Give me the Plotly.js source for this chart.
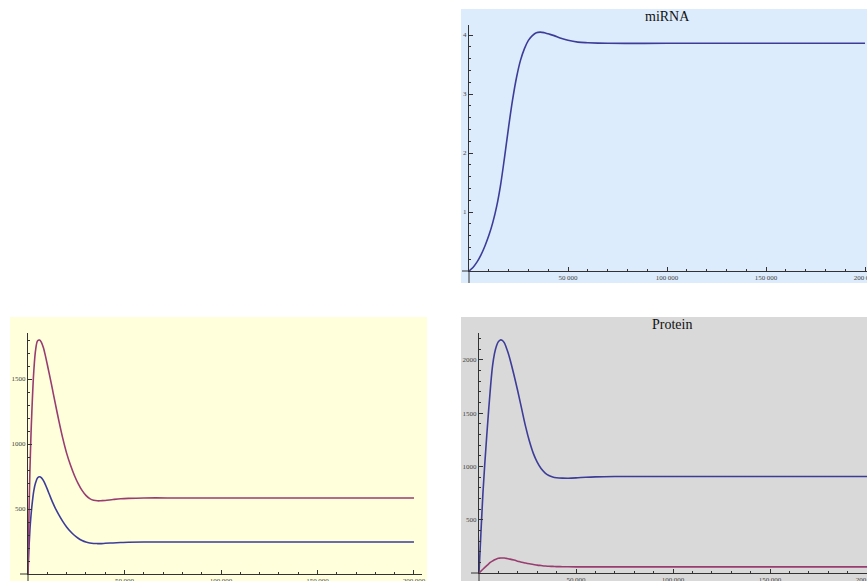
<!DOCTYPE html>
<html>
<head>
<meta charset="utf-8">
<script src="https://cdn.plot.ly/plotly-3.0.1.min.js"></script>
<style>html,body{margin:0;padding:0;background:#fff;}#chart{width:867px;height:581px;}</style>
</head>
<body>
<div id="chart"></div>
<script>
// ---- data ----
var mirnaT = [0, 2000, 4000, 6000, 8000, 10000, 12000, 14000, 16000, 18000, 20000, 22000, 24000, 26000, 28000, 30000, 32000, 34000, 36000, 38000, 40000, 43000, 46000, 50000, 55000, 60000, 70000, 100000, 150000, 200000];
var mirnaY = [0, 0.06, 0.15, 0.27, 0.42, 0.60, 0.82, 1.10, 1.47, 1.94, 2.44, 2.90, 3.28, 3.57, 3.77, 3.91, 3.99, 4.04, 4.05, 4.04, 4.02, 3.99, 3.95, 3.91, 3.88, 3.87, 3.86, 3.86, 3.86, 3.86];

var mrnaT = [0, 500, 1000, 1500, 2000, 3000, 4000, 5000, 6000, 7000, 8000, 9000, 10000, 11000, 12000, 13000, 14000, 16000, 18000, 20000, 22000, 24000, 26000, 28000, 30000, 32000, 34000, 36000, 38000, 40000, 44000, 48000, 52000, 60000, 80000, 120000, 160000, 200000];
var mrnaPurple = [0, 450, 800, 1050, 1250, 1560, 1730, 1795, 1800, 1780, 1740, 1680, 1612, 1542, 1470, 1396, 1322, 1178, 1045, 930, 838, 760, 695, 643, 605, 580, 567, 563, 564, 566, 573, 579, 582, 585, 585, 585, 585, 585];
var mrnaBlue = [0, 200, 340, 440, 520, 640, 705, 740, 748, 740, 718, 688, 653, 615, 578, 543, 511, 455, 405, 362, 327, 298, 275, 258, 246, 239, 235, 234, 234, 236, 239, 242, 244, 246, 246, 246, 246, 246];

var protT = [0, 1000, 2000, 3000, 4000, 5000, 6000, 7000, 8000, 9000, 10000, 11000, 12000, 13000, 14000, 15000, 16000, 18000, 20000, 22000, 24000, 26000, 28000, 30000, 32000, 34000, 36000, 38000, 40000, 43000, 46000, 50000, 55000, 60000, 70000, 100000, 150000, 200000];
var protBlue = [0, 380, 740, 1030, 1290, 1535, 1760, 1945, 2060, 2130, 2170, 2186, 2182, 2160, 2118, 2065, 2003, 1860, 1705, 1540, 1375, 1235, 1122, 1040, 980, 940, 915, 901, 894, 890, 889, 892, 898, 902, 905, 905, 905, 905];
var protPurple = [0, 17, 35, 53, 70, 86, 101, 113, 124, 132, 138, 140, 141, 140, 137, 134, 130, 121, 111, 101, 93, 86, 80, 74, 70, 66, 63, 62, 60, 59, 58, 57, 57, 57, 57, 57, 57, 57];

var xTickVals = [50000, 100000, 150000, 200000];
var xTickText = ["50\u2009000", "100\u2009000", "150\u2009000", "200\u2009000"];
var mirnaTickVals = [1, 2, 3, 4];
var mirnaTickText = ["1", "2", "3", "4"];
var mrnaTickVals = [500, 1000, 1500];
var mrnaTickText = ["500", "1000", "1500"];
var protTickVals = [500, 1000, 1500, 2000];
var protTickText = ["500", "1000", "1500", "2000"];

var titleA = "miRNA";
var titleC = "Protein";

// ---- styles ----
var BLUE = "#3d3d99", PURPLE = "#993d71";
var W = 867, H = 581;
function px(x){ return x / W; }
function py(y){ return 1 - y / H; }
var tickFont = {family: "Liberation Serif, Times New Roman, serif", size: 7, color: "#444"};
var axisColor = "#333";

function xax(domain, range, anchor){
  return {domain: domain, range: range, anchor: anchor, showgrid: false, zeroline: false,
    showline: true, linecolor: axisColor, linewidth: 1,
    ticks: "inside", ticklen: 4, tickcolor: axisColor, tickwidth: 1,
    tickmode: "array", tickvals: xTickVals, ticktext: xTickText, tickfont: tickFont,
    ticklabeloverflow: "allow",
    minor: {ticks: "inside", ticklen: 2, tickcolor: axisColor, dtick: 10000, tick0: 0, showgrid: false},
    fixedrange: true};
}
function yax(domain, range, anchor, vals, text, mdt){
  return {domain: domain, range: range, anchor: anchor, showgrid: false, zeroline: false,
    showline: true, linecolor: axisColor, linewidth: 1,
    ticks: "inside", ticklen: 4, tickcolor: axisColor, tickwidth: 1,
    tickmode: "array", tickvals: vals, ticktext: text, tickfont: tickFont,
    minor: {ticks: "inside", ticklen: 2, tickcolor: axisColor, dtick: mdt, tick0: 0, showgrid: false},
    fixedrange: true};
}

var line = function(c){ return {color: c, width: 1.6, shape: "spline", smoothing: 1}; };

var traces = [
  {x: mirnaT, y: mirnaY, xaxis: "x", yaxis: "y", mode: "lines", line: line(BLUE), hoverinfo: "skip"},
  {x: mrnaT, y: mrnaBlue, xaxis: "x2", yaxis: "y2", mode: "lines", line: line(BLUE), hoverinfo: "skip"},
  {x: mrnaT, y: mrnaPurple, xaxis: "x2", yaxis: "y2", mode: "lines", line: line(PURPLE), hoverinfo: "skip"},
  {x: protT, y: protBlue, xaxis: "x3", yaxis: "y3", mode: "lines", line: line(BLUE), hoverinfo: "skip"},
  {x: protT, y: protPurple, xaxis: "x3", yaxis: "y3", mode: "lines", line: line(PURPLE), hoverinfo: "skip"}
];

function rect(x0, y0, x1, y1, c){
  return {type: "rect", xref: "paper", yref: "paper", x0: px(x0), x1: px(x1), y0: py(y1), y1: py(y0),
    fillcolor: c, line: {width: 0}, layer: "below"};
}
function seg(x0, y0, x1, y1){
  return {type: "line", xref: "paper", yref: "paper", x0: px(x0), x1: px(x1), y0: py(y0), y1: py(y1),
    line: {color: axisColor, width: 1}, layer: "above"};
}

var layout = {
  width: W, height: H, autosize: false,
  margin: {l: 0, r: 0, t: 0, b: 0, pad: 0},
  paper_bgcolor: "#ffffff", plot_bgcolor: "rgba(0,0,0,0)",
  showlegend: false,
  xaxis:  xax([px(469), 1], [0, 201000], "y"),
  yaxis:  yax([py(271), py(25)], [0, 4.17], "x", mirnaTickVals, mirnaTickText, 0.2),
  xaxis2: xax([px(28), px(422)], [0, 204150], "y2"),
  yaxis2: yax([py(574), py(333)], [0, 1854], "x2", mrnaTickVals, mrnaTickText, 100),
  xaxis3: xax([px(479), 1], [0, 200000], "y3"),
  yaxis3: yax([py(573), py(333)], [0, 2251], "x3", protTickVals, protTickText, 100),
  shapes: [
    rect(461, 9, 867, 283, "#dcecfc"),
    rect(10, 317, 427, 581, "#ffffdc"),
    rect(461, 317, 867, 581, "#d9d9d9"),
    seg(462, 271, 469, 271), seg(469, 271, 469, 283),
    seg(20, 574, 28, 574), seg(28, 574, 28, 581),
    seg(471, 573, 479, 573), seg(479, 573, 479, 581)
  ],
  annotations: [
    {text: titleA, xref: "paper", yref: "paper", x: px(667), y: py(16), xanchor: "center", yanchor: "middle",
     showarrow: false, font: {family: "Liberation Serif, Times New Roman, serif", size: 14, color: "#111"}},
    {text: titleC, xref: "paper", yref: "paper", x: px(672), y: py(324), xanchor: "center", yanchor: "middle",
     showarrow: false, font: {family: "Liberation Serif, Times New Roman, serif", size: 14, color: "#111"}}
  ]
};

Plotly.newPlot("chart", traces, layout, {staticPlot: true, displayModeBar: false});
</script>
</body>
</html>
